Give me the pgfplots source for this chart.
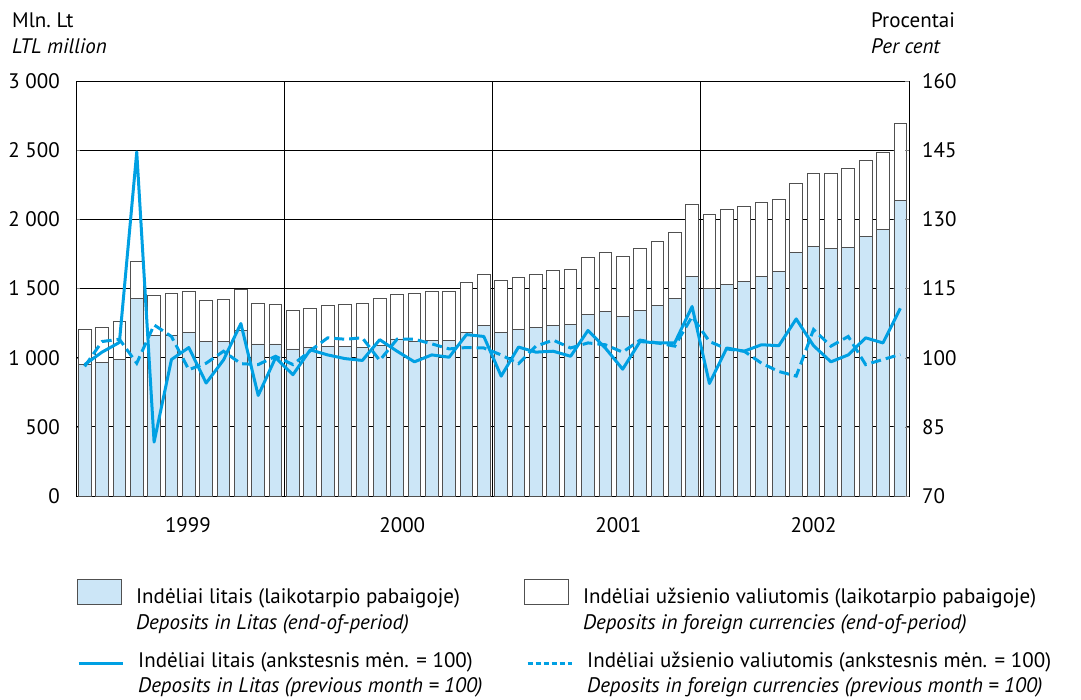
\documentclass[border=0pt]{standalone}
\usepackage{pgfplots}
\pgfplotsset{compat=1.18}
\usepackage{pgfplotstable}
\usepackage{fontspec}
\setmainfont{PT Sans}
\definecolor{barblue}{RGB}{204,230,247}
\definecolor{linecyan}{RGB}{0,160,227}
\definecolor{edge}{RGB}{80,80,80}

\pgfplotstableread{
i total lt sol dash
1 1202 950 98.5 98.1
2 1221 962 101.2 103.5
3 1262 990 103.3 104
4 1695 1425 144.6 98.8
5 1452 1163 81.7 107.1
6 1464 1159 99.6 104.6
7 1481 1183 102.2 97.4
8 1411 1115 94.5 98.8
9 1421 1118 99.5 101.4
10 1495 1195 107.4 98.7
11 1390 1099 91.8 98.5
12 1385 1099 100 100.3
13 1341 1063 96.3 98.5
14 1356 1077 101.7 101.5
15 1375 1084 100.6 104.3
16 1385 1079 99.8 104
17 1392 1075 99.4 104.3
18 1428 1090 103.9 99.4
19 1459 1135 101.4 104
20 1464 1118 99.1 104
21 1478 1127 100.6 103
22 1481 1127 100.1 101.9
23 1546 1180 105 102.2
24 1603 1231 104.6 102.1
25 1558 1180 96.0 100.6
26 1577 1207 102.3 98.7
27 1599 1221 101.2 102.5
28 1630 1236 101.4 103.8
29 1640 1238 100.3 102.1
30 1724 1310 105.9 103.2
31 1760 1334 102.1 102.8
32 1731 1301 97.5 101.2
33 1791 1344 103.5 103.8
34 1839 1380 103.2 103.2
35 1904 1430 103.2 102.5
36 2106 1589 111.1 108.9
37 2034 1500 94.4 103.5
38 2072 1529 102.1 101.9
39 2094 1548 101.4 101.4
40 2125 1587 102.8 98.8
41 2144 1625 102.6 97.0
42 2257 1757 108.4 96.0
43 2332 1805 102.6 106.1
44 2329 1791 99.1 102.5
45 2365 1800 100.6 104.6
46 2428 1873 104.3 98.5
47 2483 1930 103.2 99.6
48 2692 2135 110.7 100.7
}\datatable

\newcommand{\fs}{\fontsize{21pt}{25pt}\selectfont}

\begin{document}
\fs
\begin{tikzpicture}
\path[use as bounding box] (0pt,0pt) rectangle (1081pt,-700pt);
\node[anchor=base west, inner sep=0pt] at (12pt,-28pt) {Mln.\ Lt};
\node[anchor=base west, inner sep=0pt] at (12pt,-54pt) {\itshape LTL million};
\node[anchor=base west, inner sep=0pt] at (871pt,-28pt) {Procentai};
\node[anchor=base west, inner sep=0pt] at (871pt,-54pt) {\itshape Per cent};

\begin{axis}[
  at={(76pt,-496pt)}, anchor=south west,
  scale only axis, width=833pt, height=415pt,
  xmin=0.5, xmax=48.5, ymin=0, ymax=3000,
  ybar, bar shift=0pt, bar width=12.7pt,
  ytick={0,500,...,3000},
  yticklabels={0,500,1 000,1 500,2 000,2 500,3 000},
  ytick pos=left, tick align=inside,
  major tick length=4pt,
  ymajorgrids,
  grid style={black, line width=0.8pt},
  axis line style={black, line width=0.9pt},
  xtick={6.95,19.3,31.75,43.0},
  xticklabels={1999,2000,2001,2002},
  x tick style={draw=none},
  extra x ticks={12.5,24.5,36.5},
  extra x tick labels={},
  extra x tick style={grid=major, major tick length=0pt},
  xticklabel style={yshift=-14pt},
  yticklabel style={xshift=-9pt},
  tick label style={font=\fs},
  legend columns=2,
  legend cell align=left,
  legend style={at={(axis description cs:0.0012,-0.2)}, anchor=north west,
    draw=none, fill=none, inner sep=0pt,
    font=\fs, row sep=8pt,
    /tikz/every odd column/.style={column sep=14pt},
    nodes={inner sep=0pt, anchor=base west}},
]
\addplot[fill=white, draw=edge, line width=0.9pt, forget plot] table[x=i, y=total] {\datatable};
\addplot[fill=barblue, draw=edge, line width=0.9pt, forget plot] table[x=i, y=lt] {\datatable};
\addlegendimage{legend image code/.code={\draw[fill=barblue, draw=edge, line width=0.9pt] (0pt,-1pt) rectangle (44pt,24pt);}}
\addlegendentry{\makebox[388pt][l]{Indėliai litais (laikotarpio pabaigoje)}}
\addlegendimage{legend image code/.code={\draw[fill=white, draw=edge, line width=0.9pt] (0pt,-1pt) rectangle (44pt,24pt);}}
\addlegendentry{Indėliai užsienio valiutomis (laikotarpio pabaigoje)}
\addlegendimage{empty legend}
\addlegendentry{\itshape Deposits in Litas (end-of-period)}
\addlegendimage{empty legend}
\addlegendentry{\itshape Deposits in foreign currencies (end-of-period)}
\end{axis}

\begin{axis}[
  at={(76pt,-496pt)}, anchor=south west,
  scale only axis, width=833pt, height=415pt,
  xmin=0.5, xmax=48.5, ymin=70, ymax=160,
  axis x line=none,
  axis y line*=right,
  axis line style={black, line width=0.9pt},
  ytick={70,85,...,160},
  /pgf/number format/assume math mode=true,
  tick align=inside, major tick length=4pt,
  yticklabel style={xshift=6pt},
  tick label style={font=\fs},
  legend columns=2,
  legend cell align=left,
  legend style={at={(axis description cs:0.0012,-0.376)}, anchor=north west,
    draw=none, fill=none, inner sep=0pt,
    font=\fs, row sep=7pt,
    /tikz/every odd column/.style={column sep=14pt},
    nodes={inner sep=0pt, anchor=base west}},
]
\addplot[linecyan, line width=3pt, line join=round, legend image code/.code={\draw[linecyan, line width=3pt] (0pt,4pt) -- (44pt,4pt);}] table[x=i, y=sol] {\datatable};
\addlegendentry{\makebox[388pt][l]{Indėliai litais (ankstesnis mėn. = 100)}}
\addplot[linecyan, line width=3pt, dash pattern=on 10pt off 5pt, legend image code/.code={\draw[linecyan, line width=3pt, dash pattern=on 5pt off 3pt] (0pt,4pt) -- (44pt,4pt);}] table[x=i, y=dash] {\datatable};
\addlegendentry{Indėliai užsienio valiutomis (ankstesnis mėn. = 100)}
\addlegendimage{empty legend}
\addlegendentry{\itshape Deposits in Litas (previous month = 100)}
\addlegendimage{empty legend}
\addlegendentry{\itshape Deposits in foreign currencies (previous month = 100)}
\end{axis}
\end{tikzpicture}
\end{document}
